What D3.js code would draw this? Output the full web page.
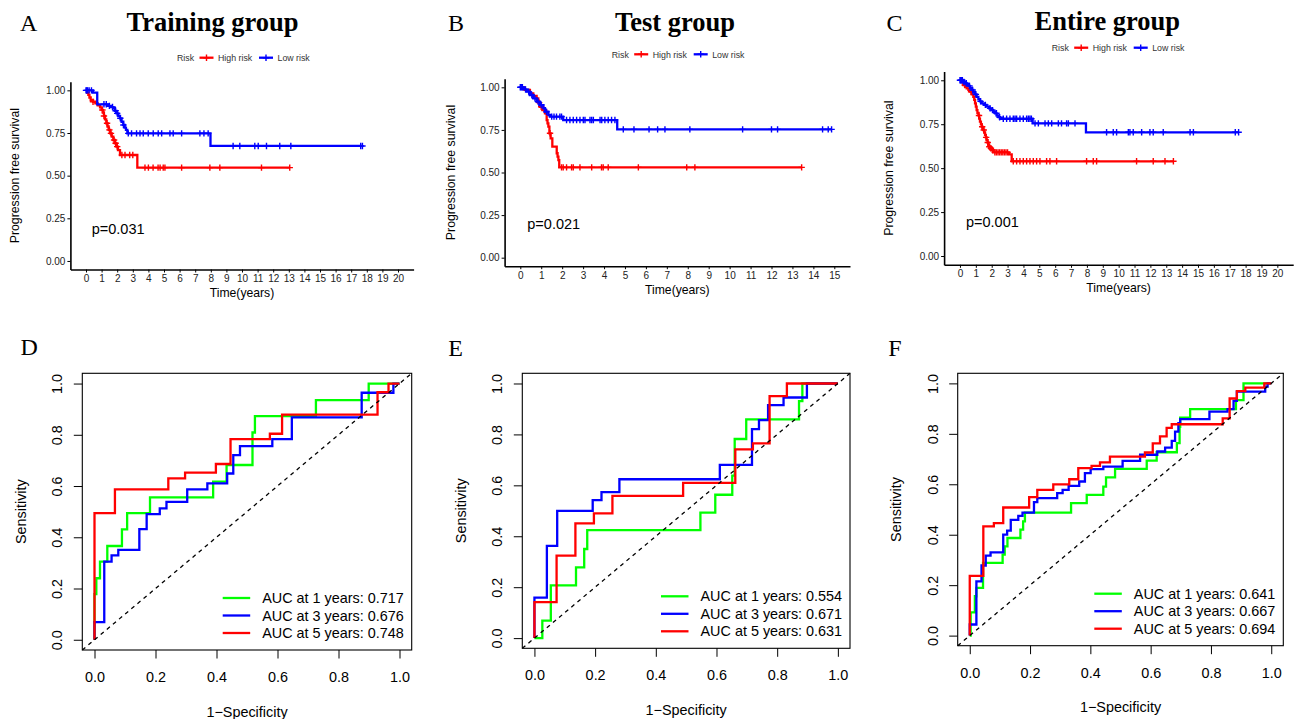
<!DOCTYPE html>
<html>
<head>
<meta charset="utf-8">
<script src="https://cdn.jsdelivr.net/npm/d3@7"></script>
<style>
  body { margin: 0; background: #fff; }
  svg { display: block; }
  text { font-family: "Liberation Sans", Arial, sans-serif; }
  .serif { font-family: "Liberation Serif", "Times New Roman", serif; }
</style>
</head>
<body>
<svg id="fig" width="1295" height="719"></svg>
<script>
/* ---------- Data ---------- */
const groupTitles = ["Training group", "Test group", "Entire group"];
const pValues = ["p=0.031", "p=0.021", "p=0.001"];
const riskLabels = ["High risk", "Low risk"];
const survTicks = [0, 0.25, 0.5, 0.75, 1];
const yearTicks20 = [0, 1, 2, 3, 4, 5, 6, 7, 8, 9, 10, 11, 12, 13, 14, 15, 16, 17, 18, 19, 20];
const yearTicks15 = [0, 1, 2, 3, 4, 5, 6, 7, 8, 9, 10, 11, 12, 13, 14, 15];

// Training group KM
const trainHighTime = [0.08, 0.15, 0.22, 0.3, 0.45, 0.6, 0.75, 0.9, 1.0, 1.08, 1.15, 1.22, 1.3, 1.38, 1.45, 1.55, 1.65, 1.75, 1.85, 1.95, 2.05, 2.18, 3.29];
const trainHighSurv = [0.985, 0.973, 0.958, 0.943, 0.933, 0.924, 0.912, 0.900, 0.885, 0.870, 0.850, 0.830, 0.807, 0.788, 0.768, 0.748, 0.729, 0.709, 0.690, 0.670, 0.650, 0.621, 0.547];
const trainHighCensor = [0.45, 1.05, 1.15, 1.35, 1.5, 1.6, 1.8, 1.9, 2.0, 2.3, 2.5, 2.8, 3.0, 3.78, 4.0, 4.3, 4.62, 4.75, 4.95, 5.06, 6.13, 7.94, 8.58, 11.25, 13.06];
const trainLowTime = [0.45, 0.72, 1.4, 1.6, 1.75, 1.85, 1.96, 2.07, 2.18, 2.28, 2.39, 2.48, 2.56, 2.65, 7.98];
const trainLowSurv = [0.986, 0.918, 0.909, 0.902, 0.895, 0.88, 0.865, 0.85, 0.836, 0.816, 0.797, 0.782, 0.768, 0.748, 0.674];
const trainLowCensor = [0, 0.05, 0.1, 0.2, 0.35, 1.15, 1.3, 1.5, 1.7, 1.9, 2.0, 2.2, 2.4, 2.71, 2.92, 3.24, 3.46, 3.67, 3.99, 4.31, 4.63, 4.85, 5.38, 5.59, 6.13, 7.3, 7.56, 7.83, 9.43, 9.86, 10.82, 11.04, 11.57, 12.42, 13.13, 17.61, 17.72];

// Test group KM
const testHighTime = [0.2, 0.46, 0.62, 0.78, 0.86, 0.94, 1.06, 1.18, 1.26, 1.3, 1.34, 1.39, 1.45, 1.53, 1.74, 1.78, 1.82, 1.86];
const testHighSurv = [0.985, 0.965, 0.95, 0.935, 0.91, 0.886, 0.866, 0.847, 0.808, 0.788, 0.769, 0.73, 0.70, 0.652, 0.613, 0.593, 0.573, 0.530];
const testHighCensor = [0.9, 1.0, 1.15, 1.42, 1.97, 2.05, 2.21, 2.45, 2.53, 2.85, 3.41, 3.88, 3.96, 4.2, 5.64, 7.95, 8.34, 13.44];
const testLowTime = [0.15, 0.3, 0.46, 0.62, 0.78, 0.94, 1.1, 1.18, 1.34, 1.42, 2.05, 4.63];
const testLowSurv = [0.988, 0.975, 0.955, 0.935, 0.916, 0.896, 0.877, 0.857, 0.838, 0.828, 0.808, 0.753];
const testLowCensor = [0, 0.05, 0.1, 0.25, 0.4, 0.55, 0.7, 0.85, 1.0, 1.25, 1.5, 1.61, 1.73, 1.89, 1.97, 2.21, 2.37, 2.53, 2.69, 2.85, 3.01, 3.09, 3.33, 3.41, 3.49, 3.81, 3.89, 4.04, 4.2, 4.36, 4.52, 4.92, 5.43, 6.15, 6.56, 6.91, 8.1, 10.62, 12.0, 12.29, 14.44, 14.71, 14.87];

// Entire group KM
const entireHighTime = [0.1, 0.21, 0.32, 0.42, 0.53, 0.63, 0.74, 0.84, 0.9, 0.95, 1.0, 1.05, 1.1, 1.16, 1.21, 1.26, 1.32, 1.37, 1.42, 1.47, 1.53, 1.58, 1.63, 1.68, 1.74, 1.79, 1.84, 1.89, 2.0, 2.1, 3.1, 3.26];
const entireHighSurv = [0.99, 0.973, 0.963, 0.954, 0.945, 0.935, 0.92, 0.906, 0.888, 0.869, 0.85, 0.83, 0.815, 0.80, 0.782, 0.765, 0.75, 0.736, 0.727, 0.717, 0.703, 0.689, 0.675, 0.66, 0.646, 0.632, 0.622, 0.613, 0.603, 0.59, 0.578, 0.539];
const entireHighCensor = [0.3, 0.7, 1.2, 1.4, 1.5, 1.65, 1.75, 1.85, 1.95, 2.05, 2.2, 2.3, 2.4, 2.5, 2.6, 2.7, 2.8, 2.9, 3.0, 3.36, 3.57, 3.78, 3.99, 4.2, 4.41, 4.62, 4.83, 5.04, 5.46, 5.67, 6.09, 7.98, 8.4, 8.61, 11.13, 12.18, 12.92, 13.45];
const entireLowTime = [0.21, 0.32, 0.42, 0.53, 0.63, 0.74, 0.84, 0.95, 1.05, 1.16, 1.26, 1.37, 1.52, 1.68, 1.84, 2.0, 2.1, 2.21, 2.31, 2.42, 2.52, 4.58, 7.94];
const entireLowSurv = [0.99, 0.983, 0.975, 0.968, 0.957, 0.945, 0.932, 0.92, 0.906, 0.892, 0.88, 0.869, 0.86, 0.85, 0.84, 0.83, 0.821, 0.812, 0.80, 0.79, 0.781, 0.755, 0.704];
const entireLowCensor = [0, 0.05, 0.1, 0.15, 0.25, 0.4, 0.6, 0.8, 1.0, 1.3, 1.6, 1.9, 2.05, 2.3, 2.5, 2.73, 2.94, 3.15, 3.36, 3.47, 3.57, 3.78, 3.99, 4.2, 4.31, 4.41, 4.5, 4.73, 4.94, 5.36, 5.57, 5.78, 6.2, 6.4, 6.72, 6.83, 7.25, 9.24, 9.66, 9.87, 10.61, 10.71, 10.92, 11.45, 11.97, 12.18, 12.81, 14.5, 14.71, 17.35, 17.56];

// ROC curves (1-specificity, sensitivity)
const rocYears = [1, 3, 5];
const rocTicks = [0, 0.2, 0.4, 0.6, 0.8, 1];
const trainAuc = [0.717, 0.676, 0.748];
const testAuc = [0.554, 0.671, 0.631];
const entireAuc = [0.641, 0.667, 0.694];

const trainFpr1 = [0, 0, 0.006, 0.018, 0.042, 0.09, 0.107, 0.182, 0.389, 0.433, 0.518, 0.526, 0.726, 0.899, 1];
const trainTpr1 = [0, 0.178, 0.24, 0.305, 0.366, 0.431, 0.494, 0.556, 0.617, 0.682, 0.809, 0.873, 0.935, 1, 1];
const trainFpr3 = [0, 0, 0.032, 0.056, 0.078, 0.147, 0.171, 0.214, 0.236, 0.304, 0.37, 0.435, 0.455, 0.477, 0.583, 0.647, 0.876, 0.98, 1];
const trainTpr3 = [0, 0.069, 0.305, 0.329, 0.351, 0.432, 0.49, 0.513, 0.538, 0.587, 0.61, 0.649, 0.721, 0.756, 0.783, 0.868, 0.964, 1, 1];
const trainFpr5 = [0, 0, 0.067, 0.242, 0.297, 0.398, 0.446, 0.575, 0.615, 0.928, 0.964, 1];
const trainTpr5 = [0, 0.494, 0.587, 0.63, 0.652, 0.686, 0.783, 0.804, 0.879, 0.966, 1, 1];

const testFpr1 = [0, 0.026, 0.054, 0.137, 0.164, 0.174, 0.547, 0.596, 0.652, 0.66, 0.698, 0.872, 0.883, 1];
const testTpr1 = [0, 0.069, 0.207, 0.278, 0.35, 0.424, 0.493, 0.563, 0.638, 0.782, 0.859, 0.931, 1, 1];
const testFpr3 = [0, 0, 0.041, 0.075, 0.192, 0.221, 0.28, 0.611, 0.717, 0.74, 0.77, 0.821, 0.898, 1];
const testTpr3 = [0, 0.159, 0.362, 0.5, 0.542, 0.573, 0.624, 0.68, 0.821, 0.856, 0.915, 0.945, 1, 1];
const testFpr5 = [0, 0, 0.073, 0.135, 0.196, 0.257, 0.49, 0.662, 0.72, 0.775, 0.832, 1];
const testTpr5 = [0, 0.141, 0.324, 0.451, 0.49, 0.559, 0.61, 0.741, 0.765, 0.95, 1, 1];

const entireFpr1 = [0, 0.003, 0.017, 0.022, 0.044, 0.109, 0.116, 0.125, 0.168, 0.177, 0.183, 0.336, 0.388, 0.443, 0.452, 0.482, 0.587, 0.62, 0.687, 0.696, 0.698, 0.731, 0.883, 0.908, 1];
const entireTpr1 = [0, 0.092, 0.156, 0.189, 0.288, 0.321, 0.354, 0.387, 0.42, 0.453, 0.488, 0.525, 0.558, 0.591, 0.627, 0.661, 0.694, 0.727, 0.763, 0.828, 0.864, 0.898, 0.934, 1, 1];
const entireFpr3 = [0, 0, 0.022, 0.039, 0.053, 0.069, 0.111, 0.124, 0.136, 0.161, 0.175, 0.213, 0.224, 0.29, 0.308, 0.328, 0.363, 0.382, 0.401, 0.443, 0.507, 0.565, 0.622, 0.648, 0.67, 0.681, 0.692, 0.698, 0.795, 0.855, 0.875, 0.886, 0.98, 0.988, 1];
const entireTpr3 = [0, 0.044, 0.215, 0.278, 0.317, 0.33, 0.40, 0.416, 0.459, 0.475, 0.488, 0.529, 0.545, 0.565, 0.578, 0.594, 0.611, 0.644, 0.66, 0.67, 0.693, 0.717, 0.73, 0.745, 0.772, 0.809, 0.842, 0.858, 0.888, 0.898, 0.931, 0.967, 0.987, 1, 1];
const entireFpr5 = [0, 0, 0.045, 0.08, 0.111, 0.197, 0.224, 0.277, 0.33, 0.36, 0.404, 0.432, 0.465, 0.581, 0.607, 0.631, 0.653, 0.67, 0.839, 0.862, 0.886, 0.914, 0.977, 1];
const entireTpr5 = [0, 0.237, 0.433, 0.446, 0.508, 0.549, 0.578, 0.60, 0.62, 0.664, 0.673, 0.687, 0.71, 0.726, 0.762, 0.79, 0.824, 0.838, 0.861, 0.94, 0.969, 0.983, 1, 1];

/* ---------- Styles / layout ---------- */
const riskColors = ["#FF0000", "#0000FF"];
const rocColors = ["#00FF00", "#0000FF", "#FF0000"];

const kmPanels = [
  { letter: "A", title: groupTitles[0], p: pValues[0], ticks: yearTicks20, dom: [-1, 21],
    x: [70.4, 413.6], y: [269.5, 81.8], letterX: 20, titleX: 212.5, titleY: 31, legX: 177, legY: 57.7,
    pX: 91.7, pY: 233.5, yTitleX: 19,
    curves: [[trainHighTime, trainHighSurv, trainHighCensor], [trainLowTime, trainLowSurv, trainLowCensor]] },
  { letter: "B", title: groupTitles[1], p: pValues[1], ticks: yearTicks15, dom: [-0.75, 15.75],
    x: [504.6, 850], y: [266.2, 78.8], letterX: 448, titleX: 675, titleY: 31, legX: 611.7, legY: 54.3,
    pX: 527.3, pY: 229.3, yTitleX: 455,
    curves: [[testHighTime, testHighSurv, testHighCensor], [testLowTime, testLowSurv, testLowCensor]] },
  { letter: "C", title: groupTitles[2], p: pValues[2], ticks: yearTicks20, dom: [-1, 21],
    x: [944.1, 1293.2], y: [264.8, 71.5], letterX: 886.5, titleX: 1107.3, titleY: 30, legX: 1051.7, legY: 47.7,
    pX: 966, pY: 227.3, yTitleX: 892.5,
    curves: [[entireHighTime, entireHighSurv, entireHighCensor], [entireLowTime, entireLowSurv, entireLowCensor]] }
];

const rocPanels = [
  { letter: "D", letterX: 20.5, letterY: 355, x: [82.3, 411.7], y: [650, 373.3], auc: trainAuc,
    curves: [[trainFpr1, trainTpr1], [trainFpr3, trainTpr3], [trainFpr5, trainTpr5]] },
  { letter: "E", letterX: 448.3, letterY: 356, x: [522.3, 850], y: [648.3, 373.3], auc: testAuc,
    curves: [[testFpr1, testTpr1], [testFpr3, testTpr3], [testFpr5, testTpr5]] },
  { letter: "F", letterX: 888.3, letterY: 356, x: [957.7, 1283.3], y: [645.7, 373.3], auc: entireAuc,
    curves: [[entireFpr1, entireTpr1], [entireFpr3, entireTpr3], [entireFpr5, entireTpr5]] }
];

const svg = d3.select("#fig");
const sans = "Liberation Sans, Arial, sans-serif";
const plus = "M-3.2,0H3.2M0,-3.2V3.2";

/* ---------- KM panels ---------- */
function survAt(times, surv, t) {
  let s = 1;
  times.forEach((tt, i) => { if (tt <= t) s = surv[i]; });
  return s;
}

function drawKM(p) {
  const g = svg.append("g");
  const x = d3.scaleLinear().domain(p.dom).range(p.x);
  const y = d3.scaleLinear().domain([-0.05, 1.05]).range(p.y);

  g.append("text").attr("class", "serif").attr("x", p.letterX).attr("y", 31)
    .attr("font-size", 24).text(p.letter);
  g.append("text").attr("class", "serif").attr("x", p.titleX).attr("y", p.titleY)
    .attr("text-anchor", "middle").attr("font-size", 26.5).attr("font-weight", "bold").text(p.title);

  // legend
  const leg = g.append("g").attr("font-size", 8.8).attr("fill", "#333");
  leg.append("text").attr("x", p.legX).attr("y", p.legY + 3.2).text("Risk");
  [0, 1].forEach(i => {
    const lx = p.legX + (i === 0 ? 22.5 : 82);
    leg.append("line").attr("x1", lx).attr("x2", lx + 14).attr("y1", p.legY).attr("y2", p.legY)
      .attr("stroke", riskColors[i]).attr("stroke-width", 2.3);
    leg.append("path").attr("d", plus).attr("transform", `translate(${lx + 7},${p.legY})`)
      .attr("stroke", riskColors[i]).attr("stroke-width", 1.4);
    leg.append("text").attr("x", lx + 18.5).attr("y", p.legY + 3.2).text(riskLabels[i]);
  });

  // axes
  const xAxis = d3.axisBottom(x).tickValues(p.ticks).tickSize(3).tickSizeOuter(0).tickPadding(2.4);
  const gx = g.append("g").attr("transform", `translate(0,${p.y[0]})`).call(xAxis);
  const yAxis = d3.axisLeft(y).tickValues(survTicks).tickFormat(d3.format(".2f"))
    .tickSize(3).tickSizeOuter(0).tickPadding(2);
  const gy = g.append("g").attr("transform", `translate(${p.x[0]},0)`).call(yAxis);
  [gx, gy].forEach(a => {
    a.attr("font-family", sans).attr("font-size", 10);
    a.select(".domain").attr("stroke", "#000").attr("stroke-width", 1.6);
    a.selectAll(".tick line").attr("stroke", "#000").attr("stroke-width", 1);
    a.selectAll(".tick text").attr("fill", "#222");
  });

  g.append("text").attr("x", (p.x[0] + p.x[1]) / 2).attr("y", p.y[0] + 27.5)
    .attr("text-anchor", "middle").attr("font-size", 12.2).text("Time(years)");
  g.append("text").attr("transform", `translate(${p.yTitleX},${(p.y[0] + p.y[1]) / 2}) rotate(-90)`)
    .attr("text-anchor", "middle").attr("font-size", 12.3).text("Progression free survival");

  // curves
  const line = d3.line().x(d => x(d[0])).y(d => y(d[1])).curve(d3.curveStepAfter);
  p.curves.forEach((c, i) => {
    const [times, surv, cens] = c;
    const end = Math.max(d3.max(cens), d3.max(times));
    const pts = [[0, 1]].concat(times.map((t, j) => [t, surv[j]]));
    pts.push([end, surv[surv.length - 1]]);
    g.append("path").attr("d", line(pts)).attr("fill", "none")
      .attr("stroke", riskColors[i]).attr("stroke-width", 2.3);
    g.append("g").selectAll("path").data(cens).join("path")
      .attr("d", plus)
      .attr("transform", t => `translate(${x(t)},${y(survAt(times, surv, t))})`)
      .attr("stroke", riskColors[i]).attr("stroke-width", 1.4);
  });

  g.append("text").attr("x", p.pX).attr("y", p.pY).attr("font-size", 14.5).text(p.p);
}

/* ---------- ROC panels ---------- */
function drawROC(p) {
  const g = svg.append("g");
  const x = d3.scaleLinear().domain([-0.04, 1.04]).range(p.x);
  const y = d3.scaleLinear().domain([-0.04, 1.04]).range(p.y);

  g.append("text").attr("class", "serif").attr("x", p.letterX).attr("y", p.letterY)
    .attr("font-size", 24).text(p.letter);

  const line = d3.line().x(d => x(d[0])).y(d => y(d[1])).curve(d3.curveStepAfter);
  p.curves.forEach((c, i) => {
    const pts = c[0].map((f, j) => [f, c[1][j]]);
    g.append("path").attr("d", line(pts)).attr("fill", "none")
      .attr("stroke", rocColors[i]).attr("stroke-width", 2.3);
  });

  g.append("line").attr("x1", x(-0.04)).attr("y1", y(-0.04)).attr("x2", x(1.04)).attr("y2", y(1.04))
    .attr("stroke", "#000").attr("stroke-width", 1.3).attr("stroke-dasharray", "4,4");

  g.append("rect").attr("x", p.x[0]).attr("y", p.y[1])
    .attr("width", p.x[1] - p.x[0]).attr("height", p.y[0] - p.y[1])
    .attr("fill", "none").attr("stroke", "#000").attr("stroke-width", 1.1);

  const xAxis = d3.axisBottom(x).tickValues(rocTicks).tickFormat(d3.format(".1f"))
    .tickSize(8.5).tickPadding(13.3);
  const gx = g.append("g").attr("transform", `translate(0,${p.y[0]})`).call(xAxis);
  const yAxis = d3.axisLeft(y).tickValues(rocTicks).tickFormat(d3.format(".1f")).tickSize(8.5);
  const gy = g.append("g").attr("transform", `translate(${p.x[0]},0)`).call(yAxis);
  gy.selectAll(".tick text").attr("x", null).attr("dy", null)
    .attr("text-anchor", "middle").attr("transform", "translate(-20,0) rotate(-90)");
  [gx, gy].forEach(a => {
    a.attr("font-family", sans).attr("font-size", 14.4);
    a.select(".domain").remove();
    a.selectAll(".tick line").attr("stroke", "#000").attr("stroke-width", 1);
    a.selectAll(".tick text").attr("fill", "#000");
  });

  g.append("text").attr("x", (p.x[0] + p.x[1]) / 2).attr("y", p.y[0] + 66.5)
    .attr("text-anchor", "middle").attr("font-size", 14.4).text("1\u2212Specificity");
  g.append("text").attr("transform", `translate(${p.x[0] - 56.5},${(p.y[0] + p.y[1]) / 2}) rotate(-90)`)
    .attr("text-anchor", "middle").attr("font-size", 14.4).text("Sensitivity");

  // legend, bottom right
  const tx = p.x[1] - 149.5;
  const rowY = [p.y[0] - 52, p.y[0] - 34.5, p.y[0] - 17];
  rocYears.forEach((yr, i) => {
    g.append("line").attr("x1", tx - 39.5).attr("x2", tx - 12).attr("y1", rowY[i]).attr("y2", rowY[i])
      .attr("stroke", rocColors[i]).attr("stroke-width", 2.3);
    g.append("text").attr("x", tx).attr("y", rowY[i] + 5.1).attr("font-size", 14.4)
      .text(`AUC at ${yr} years: ${p.auc[i].toFixed(3)}`);
  });
}

kmPanels.forEach(drawKM);
rocPanels.forEach(drawROC);
</script>
</body>
</html>
